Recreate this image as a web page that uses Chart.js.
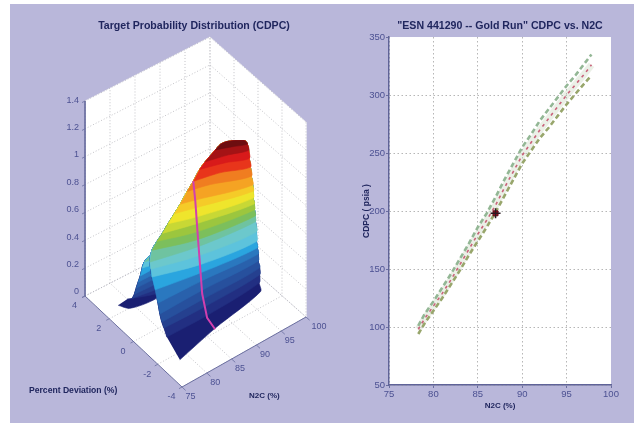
<!DOCTYPE html>
<html>
<head>
<meta charset="utf-8">
<title>CDPC vs. N2C</title>
<script src="https://cdn.jsdelivr.net/npm/chart.js@4"></script>
<style>
    html, body { margin: 0; background: #fff; }
    #panel { position: absolute; left: 10px; top: 4px; width: 624px; height: 419px; background: #b9b7da; }
    canvas { position: absolute; top: 0; filter: blur(0.5px); }
    #surface { left: 0; }
    #trend { left: 355px; }
</style>
</head>
<body>
<div id="panel"></div>
<canvas id="surface" width="355" height="423"></canvas>
<canvas id="trend" width="279" height="423"></canvas>
<script>
// ---- left chart data: height contours ----
const n2cTicks = [75, 80, 85, 90, 95, 100];
const devTicks = [-4, -2, 0, 2, 4];
const zTicks = [0, 0.2, 0.4, 0.6, 0.8, 1, 1.2, 1.4];

const contourZ = [0, .05, .09, .14, .19, .24, .30, .36, .42, .47, .51, .55, .59, .62, .66, .70, .75, .82, .87, .93, .98];
const contourN2C = [
    [78.4, 87.2, 97.9], [78.9, 87, 98], [79, 87.2, 98.4], [78.6, 87.2, 98.4], [78.5, 87.3, 98.2],
    [78.8, 87.5, 98.2], [79.1, 87.3, 97.8], [79.3, 87.1, 97.4], [79.1, 87.1, 97.6], [79, 87.3, 97.9],
    [80.1, 87.3, 97.9], [81.2, 87.6, 97.9], [82.2, 87.9, 97.9], [83.7, 88.2, 98], [85.1, 88.6, 98.2],
    [86.4, 88.9, 98.2], [88.1, 92, 98.3], [88.9, 93.6, 98.1], [90.4, 94.6, 98.2], [91, 94.9, 98.1],
    [93, 95.6, 97.8],
];
const contourDev = [
    [-2.43, -1.75, -1.08], [-1.15, -1.17, -.93], [-.87, -.92, -.8], [-.86, -.83, -.8], [-.74, -.69, -.76],
    [-.46, -.54, -.76], [-.1, -.53, -.86], [.25, -.52, -.95], [.25, -.45, -.87], [.29, -.31, -.66],
    [.58, -.2, -.64], [.62, -.06, -.58], [.59, .1, -.56], [.73, .25, -.43], [.79, .48, -.35],
    [.84, .61, -.3], [.96, .64, -.15], [.79, .45, -.16], [.88, .47, -.02], [.67, .35, -.01],
    [.64, .29, -.02],
];
const bandColors = [
    '#1a1f72', '#222f82', '#25408f', '#27509d', '#2961ac', '#2a78bf', '#2aa5df', '#5dc3dc', '#6cc8cc', '#6fc3a0',
    '#7cbf5c', '#9cc63e', '#c8d835', '#efe52c', '#f5cb28', '#f5a323', '#f07d20', '#e8351b', '#d81a1a', '#a41315',
    '#6d0e10',
];
const capN2C = [97.6, 96.8, 95.3, 94.2];
const capDev = [.05, .3, .59, .72];
const capZ = [1, 1, 1, .99];

// back side of the ridge, seen behind the low N2C end
const backZ = [0, .05, .09, .14, .19, .24, .30, .36, .47];
const backBand = [0, 1, 2, 3, 4, 5, 6, 7, 9];
const backN2C = [[78, 79.1, 83.6], [79, 83.9], [79, 83.8], [78.9, 83.6], [79, 83.5], [79.1, 83.3], [79.1, 82.8], [79.3, 82.1], [78.3, 80.6]];
const backDev = [[2.5, 1.97, 1.74], [2.18, 1.6], [1.77, 1.57], [1.54, 1.51], [1.43, 1.46], [1.31, 1.35], [1.13, 1.18], [1.05, .88], [.47, .26]];
const backTop = { n: 78.7, d: .16, z: .53 };

// operating line on the surface
const lineN2C = [87, 87, 87, 87, 87, 87];
const lineDev = [-1.81, -1.15, -.74, -.41, -.17, 0];
const lineZ = [0, .03, .17, .52, .79, .92];

// ---- right chart data ----
const trendN2C = [78.3, 79, 80, 81, 82, 83, 84, 85, 86, 87, 88, 89, 90, 91, 92, 93, 94, 95, 96, 97, 97.8];
const trendCenter = [98, 107, 118, 129, 141, 154, 167, 180, 192, 205, 220, 234, 248, 259, 270, 280, 290, 300, 309, 318, 326];
const trendUpper = [101, 111, 122, 134, 146, 159, 172, 186, 198, 212, 227, 241, 255, 266, 278, 288, 298, 308, 317, 327, 335];
const trendLower = [94, 103, 114, 125, 137, 149, 162, 174, 186, 199, 213, 227, 241, 252, 263, 272, 282, 292, 301, 310, 317];
const targetN2C = [87];
const targetCDPC = [198];

const textColor = '#4c5192';
const titleColor = '#20265e';

// 3D view: floor corners of the box on the view plane, z goes straight up
function project(n, d, z) {
    const u = (n - 75) / 25;
    const v = (d + 4) / 8;
    return {
        x: 182 + 124 * u - 97 * v + u * v,
        y: 387 - 70 * u - 91 * v + 6 * u * v - z * 195 / 1.4,
    };
}

function poly(points, color, tension) {
    return { data: points, borderColor: color, backgroundColor: color, borderWidth: 0.6, fill: 'shape', showLine: true, pointRadius: 0, tension: tension || 0 };
}

function line(points, color, width, dash) {
    return { data: points, borderColor: color, borderWidth: width, borderDash: dash || [], fill: false, showLine: true, pointRadius: 0, tension: 0 };
}

// box walls, floor and dotted grid
function boxDatasets() {
    const grid = '#b4b4ba';
    const dots = [1, 2];
    const axis = '#6a6ea0';
    const list = [
        poly([project(75, 4, 0), project(75, 4, 1.4), project(100, 4, 1.4), project(100, 4, 0)], '#fff'),
        poly([project(100, 4, 0), project(100, 4, 1.4), project(100, -4, 1.4), project(100, -4, 0)], '#fff'),
        poly([project(75, -4, 0), project(75, 4, 0), project(100, 4, 0), project(100, -4, 0)], '#fff'),
    ];
    n2cTicks.forEach(n => {
        list.push(line([project(n, -4, 0), project(n, 4, 0), project(n, 4, 1.4)], grid, 0.8, dots));
        list.push(line([project(n, -4, 0), project(n, -4.3, 0)], axis, 0.8));
    });
    devTicks.forEach(d => {
        list.push(line([project(75, d, 0), project(100, d, 0), project(100, d, 1.4)], grid, 0.8, dots));
        list.push(line([project(75, d, 0), project(74.4, d, 0)], axis, 0.8));
    });
    zTicks.forEach(z => {
        list.push(line([project(75, 4, z), project(100, 4, z), project(100, -4, z)], grid, 0.8, dots));
        list.push(line([project(75, 4, z), project(74.4, 4, z)], axis, 0.8));
    });
    list.push(line([project(75, 4, 1.4), project(75, 4, 0), project(75, -4, 0), project(100, -4, 0)], axis, 1));
    return list;
}

// each band paints everything above its own contour, bottom band first
function frontDatasets() {
    return contourZ.map((z, i) => {
        const pts = contourN2C[i].map((n, k) => project(n, contourDev[i][k], z));
        for (let j = i + 1; j < contourZ.length; j++) {
            pts.push(project(contourN2C[j][2], contourDev[j][2], contourZ[j]));
        }
        capN2C.forEach((n, k) => pts.push(project(n, capDev[k], capZ[k])));
        for (let j = contourZ.length - 1; j > i; j--) {
            pts.push(project(contourN2C[j][0], contourDev[j][0], contourZ[j]));
        }
        return poly(pts, bandColors[i], 0.3);
    });
}

function backDatasets() {
    return backZ.map((z, i) => {
        const pts = backN2C[i].map((n, k) => project(n, backDev[i][k], z));
        for (let j = i + 1; j < backZ.length; j++) {
            const last = backN2C[j].length - 1;
            pts.push(project(backN2C[j][last], backDev[j][last], backZ[j]));
        }
        pts.push(project(backTop.n, backTop.d, backTop.z));
        for (let j = backZ.length - 1; j > i; j--) {
            pts.push(project(backN2C[j][0], backDev[j][0], backZ[j]));
        }
        return poly(pts, bandColors[backBand[i]], 0.3);
    });
}

// tick labels and axis names of the 3D box
const boxLabels = {
    id: 'boxLabels',
    afterDraw(chart) {
        const { ctx, scales } = chart;
        const at = (p) => ({ x: scales.x.getPixelForValue(p.x), y: scales.y.getPixelForValue(p.y) });
        ctx.save();
        ctx.textBaseline = 'middle';
        ctx.fillStyle = textColor;
        ctx.font = '9px "Liberation Sans"';
        ctx.textAlign = 'center';
        n2cTicks.forEach(n => {
            const p = at(project(n, -4, 0));
            ctx.fillText(String(n), p.x + (n === 100 ? 13 : 8.5), p.y + (n === 100 ? 10 : 9.5));
        });
        devTicks.forEach(d => {
            const p = at(project(75, d, 0));
            ctx.fillText(String(d), p.x - 10.5, p.y + 10);
        });
        ctx.textAlign = 'right';
        zTicks.forEach(z => {
            const p = at(project(75, 4, z));
            ctx.fillText(String(z), p.x - 6, p.y - 4 + 3 * z / 1.4);
        });
        ctx.textAlign = 'left';
        ctx.fillStyle = titleColor;
        ctx.font = 'bold 8.6px "Liberation Sans"';
        ctx.fillText('Percent Deviation (%)', 29, 391);
        ctx.font = 'bold 8px "Liberation Sans"';
        ctx.fillText('N2C (%)', 249, 396);
        ctx.restore();
    },
};

function createSurfaceChart() {
    const datasets = [
        ...boxDatasets(),
        ...backDatasets(),
        ...frontDatasets(),
        line(lineN2C.map((n, i) => project(n, lineDev[i], lineZ[i])), '#d23fae', 2),
    ];
    // later entries lie on top
    datasets.forEach((ds, i) => { ds.order = datasets.length - i; ds.clip = false; });
    new Chart(document.getElementById('surface'), {
        type: 'scatter',
        data: { datasets },
        options: {
            responsive: false,
            animation: false,
            layout: { padding: { left: 33 } },
            plugins: {
                legend: { display: false },
                tooltip: { enabled: false },
                title: {
                    display: true,
                    fullSize: false,
                    text: 'Target Probability Distribution (CDPC)',
                    color: titleColor,
                    font: { family: '"Liberation Sans"', size: 10.6, weight: 'bold' },
                    padding: { top: 19.5, bottom: 2.8 },
                },
            },
            scales: {
                x: { type: 'linear', display: false, min: 33, max: 355 },
                y: { type: 'linear', display: false, reverse: true, min: 35, max: 423 },
            },
        },
        plugins: [boxLabels],
    });
}

// white plot background behind the grid
const plotBackground = {
    id: 'plotBackground',
    beforeDraw(chart) {
        const { ctx, chartArea: a } = chart;
        ctx.save();
        ctx.fillStyle = '#fff';
        ctx.fillRect(a.left, a.top, a.right - a.left, a.bottom - a.top);
        ctx.restore();
    },
};

function createTrendChart() {
    const toPoints = (ys) => trendN2C.map((x, i) => ({ x, y: ys[i] }));
    const gridColor = (max) => (c) => (c.tick.value === max ? 'rgba(0,0,0,0)' : '#b6b6b6');
    const target = targetN2C.map((x, i) => ({ x, y: targetCDPC[i] }));
    new Chart(document.getElementById('trend'), {
        type: 'scatter',
        data: {
            datasets: [
                { data: target, pointStyle: 'cross', pointRadius: 5, pointBorderWidth: 1.5, pointBorderColor: '#2a1a20', showLine: false },
                { data: target, pointStyle: 'rect', pointRadius: 3.5, pointBackgroundColor: '#a50d20', pointBorderColor: '#5a0a14', showLine: false },
                line(toPoints(trendCenter), '#c9627a', 1.6, [3, 4]),
                line(toPoints(trendUpper), '#93b795', 2.6, [5, 3]),
                line(toPoints(trendLower), '#98a66c', 2.6, [5, 3]),
                line(toPoints(trendCenter), 'rgba(190,205,175,0.3)', 7),
            ],
        },
        options: {
            responsive: false,
            animation: false,
            layout: { padding: { right: 23 } },
            plugins: {
                legend: { display: false },
                tooltip: { enabled: false },
                title: {
                    display: true,
                    fullSize: false,
                    text: '"ESN 441290 -- Gold Run" CDPC vs. N2C',
                    color: titleColor,
                    font: { family: '"Liberation Sans"', size: 10.6, weight: 'bold' },
                    padding: { top: 19.5, bottom: 4.8 },
                },
            },
            scales: {
                x: {
                    type: 'linear',
                    min: 75,
                    max: 100,
                    afterFit(scale) { scale.height = 38; },
                    ticks: { stepSize: 5, color: textColor, font: { family: '"Liberation Sans"', size: 9.5 }, padding: 1, maxRotation: 0 },
                    grid: { color: gridColor(100), tickColor: '#6a6ea0', tickLength: 3 },
                    border: { color: '#5f6398', width: 1.5, dash: [1.5, 2.5] },
                    title: { display: true, text: 'N2C (%)', color: titleColor, font: { family: '"Liberation Sans"', size: 8, weight: 'bold' }, padding: { top: 1, bottom: 12 } },
                },
                y: {
                    type: 'linear',
                    min: 50,
                    max: 350,
                    afterFit(scale) { scale.width = 34; },
                    ticks: { stepSize: 50, color: textColor, font: { family: '"Liberation Sans"', size: 9.5 }, padding: 1 },
                    grid: { color: gridColor(350), tickColor: '#6a6ea0', tickLength: 3 },
                    border: { color: '#5f6398', width: 1.5, dash: [1.5, 2.5] },
                    title: { display: true, text: 'CDPC ( psia )', color: titleColor, font: { family: '"Liberation Sans"', size: 8.5, weight: 'bold' }, padding: { top: 7, bottom: 0 } },
                },
            },
        },
        plugins: [plotBackground],
    });
}

createSurfaceChart();
createTrendChart();
</script>
</body>
</html>
